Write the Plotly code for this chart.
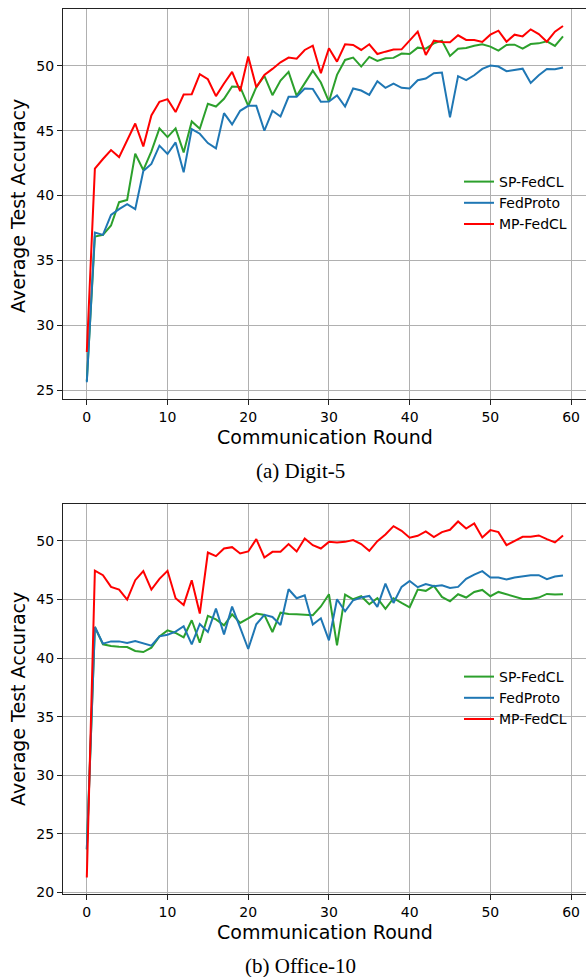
import plotly.graph_objects as go

# Communication rounds 0..59
rounds = list(range(60))

# Digit-5: average test accuracy per round
digit_sp = [25.7, 36.84, 36.97, 37.69, 39.49, 39.67, 43.23, 41.97, 43.41, 45.18,
            44.51, 45.18, 43.33, 45.72, 45.15, 47.08, 46.87, 47.46, 48.41, 48.38,
            46.92, 48.36, 49.23, 47.74, 48.87, 49.54, 47.69, 48.67, 49.64, 48.72,
            47.25, 49.31, 50.46, 50.64, 49.95, 50.69, 50.38, 50.59, 50.62, 50.95,
            50.92, 51.41, 51.33, 51.74, 51.95, 50.77, 51.33, 51.38, 51.56, 51.67,
            51.49, 51.18, 51.62, 51.64, 51.33, 51.69, 51.74, 51.90, 51.54, 52.28]
digit_proto = [25.6, 37.15, 36.97, 38.51, 38.95, 39.33, 38.95, 41.90, 42.44, 43.85,
               43.21, 44.10, 41.79, 45.13, 44.77, 44.05, 43.64, 46.36, 45.49, 46.54,
               46.92, 46.92, 45.00, 46.54, 46.10, 47.62, 47.62, 48.26, 48.23, 47.23,
               47.26, 47.72, 46.87, 48.26, 48.10, 47.77, 48.82, 48.31, 48.64, 48.31,
               48.26, 48.90, 49.03, 49.44, 49.49, 46.03, 49.21, 48.90, 49.28, 49.77,
               50.03, 49.95, 49.59, 49.67, 49.79, 48.69, 49.28, 49.77, 49.74, 49.87]
digit_mp = [27.93, 42.08, 42.82, 43.51, 42.97, 44.28, 45.56, 43.79, 46.18, 47.23,
            47.44, 46.44, 47.79, 47.82, 49.36, 48.97, 47.67, 48.64, 49.54, 48.05,
            50.72, 48.36, 49.31, 49.77, 50.28, 50.64, 50.56, 51.23, 51.56, 49.44,
            51.36, 50.33, 51.67, 51.62, 51.23, 51.67, 50.92, 51.10, 51.26, 51.28,
            52.00, 52.64, 50.85, 51.95, 51.85, 51.82, 52.36, 52.00, 52.00, 51.85,
            52.41, 52.72, 51.87, 52.41, 52.28, 52.82, 52.46, 51.87, 52.64, 53.08]

# Office-10: average test accuracy per round
office_sp = [23.67, 42.65, 41.17, 41.03, 40.97, 40.94, 40.60, 40.51, 40.88, 41.85,
             42.36, 42.14, 41.77, 43.22, 41.31, 43.59, 43.30, 42.79, 43.73, 42.99,
             43.39, 43.79, 43.68, 42.22, 43.87, 43.76, 43.73, 43.70, 43.65, 44.40,
             45.44, 41.08, 45.41, 45.01, 45.27, 44.59, 45.10, 44.19, 45.10, 44.70,
             44.33, 45.84, 45.73, 46.15, 45.21, 44.84, 45.44, 45.16, 45.64, 45.81,
             45.27, 45.64, 45.44, 45.21, 45.04, 45.04, 45.16, 45.47, 45.41, 45.44]
office_proto = [23.70, 42.65, 41.23, 41.42, 41.42, 41.28, 41.45, 41.25, 41.05, 41.85,
                41.99, 42.25, 42.71, 41.17, 42.91, 42.22, 44.22, 42.02, 44.39, 42.59,
                40.77, 42.88, 43.68, 43.50, 42.82, 45.87, 45.10, 45.36, 42.85, 43.39,
                41.51, 45.01, 43.99, 44.93, 45.16, 45.30, 44.36, 46.35, 44.70, 46.07,
                46.58, 46.04, 46.32, 46.13, 46.21, 45.98, 46.07, 46.75, 47.12, 47.41,
                46.87, 46.87, 46.70, 46.87, 46.98, 47.07, 47.07, 46.72, 46.95, 47.04]
office_mp = [21.28, 47.46, 47.07, 46.07, 45.84, 44.99, 46.64, 47.41, 45.84, 46.75,
             47.44, 45.10, 44.53, 46.64, 43.79, 49.00, 48.69, 49.34, 49.46, 48.92,
             49.09, 50.14, 48.58, 49.06, 49.06, 49.72, 49.09, 50.20, 49.63, 49.34,
             49.91, 49.86, 49.91, 50.06, 49.72, 49.15, 49.97, 50.54, 51.25, 50.85,
             50.26, 50.43, 50.80, 50.31, 50.74, 50.94, 51.65, 51.05, 51.48, 50.28,
             50.91, 50.74, 49.63, 50.00, 50.34, 50.34, 50.46, 50.14, 49.86, 50.46]

series_names = ["SP-FedCL", "FedProto", "MP-FedCL"]
series_colors = ["#2ca02c", "#1f77b4", "#ff0000"]

x_ticks = [0, 10, 20, 30, 40, 50, 60]
digit_y_ticks = [25, 30, 35, 40, 45, 50]
office_y_ticks = [20, 25, 30, 35, 40, 45, 50]

W, H = 586, 977
FONT = "DejaVu Sans"


def py(pix):
    """Paper y coordinate from a pixel row measured from the top."""
    return 1 - pix / H


def px(pix, left=63, width=523):
    return (pix - left) / width


fig = go.Figure()

panels = [
    ([digit_sp, digit_proto, digit_mp], "x", "y", "legend"),
    ([office_sp, office_proto, office_mp], "x2", "y2", "legend2"),
]
for values, xa, ya, lg in panels:
    for name, color, vals in zip(series_names, series_colors, values):
        fig.add_trace(go.Scatter(
            x=rounds, y=vals, mode="lines", name=name,
            line=dict(color=color, width=2),
            xaxis=xa, yaxis=ya, legend=lg,
        ))

axis_common = dict(
    showgrid=True, gridcolor="#b0b0b0", gridwidth=1,
    zeroline=False, showline=True, linecolor="#222222", linewidth=1.2,
    ticks="outside", ticklen=5, tickwidth=1, tickcolor="#222222",
    tickfont=dict(family=FONT, size=14, color="#000000"),
    automargin=False,
)

legend_common = dict(xanchor="left", yanchor="top",
                     bgcolor="rgba(0,0,0,0)", borderwidth=0,
                     font=dict(family=FONT, size=14, color="#000000"))

fig.update_layout(
    width=W, height=H,
    margin=dict(l=63, r=0, t=0, b=0),
    plot_bgcolor="white", paper_bgcolor="white",
    font=dict(family=FONT, color="#000000"),
    xaxis=dict(axis_common, domain=[0, 1], range=[-2.95, 61.85],
               tickvals=x_ticks, mirror=True, anchor="y"),
    yaxis=dict(axis_common, domain=[py(399), py(9)], range=[24.31, 54.39],
               tickvals=digit_y_ticks, anchor="x"),
    xaxis2=dict(axis_common, domain=[0, 1], range=[-2.95, 61.85],
                tickvals=x_ticks, mirror=True, anchor="y2"),
    yaxis2=dict(axis_common, domain=[py(894), py(504)], range=[19.87, 53.14],
                tickvals=office_y_ticks, anchor="x2"),
    legend=dict(legend_common, x=px(459), y=py(166)),
    legend2=dict(legend_common, x=px(459), y=py(661)),
    showlegend=True,
)

annotations = [
    dict(text="Average Test Accuracy", x=px(18), y=py(206), textangle=-90,
         font=dict(family=FONT, size=19)),
    dict(text="Average Test Accuracy", x=px(18), y=py(699), textangle=-90,
         font=dict(family=FONT, size=19)),
    dict(text="Communication Round", x=px(325), y=py(437),
         font=dict(family=FONT, size=19)),
    dict(text="Communication Round", x=px(325), y=py(932),
         font=dict(family=FONT, size=19)),
    dict(text="(a) Digit-5", x=px(300), y=py(471),
         font=dict(family="Liberation Serif", size=21)),
    dict(text="(b) Office-10", x=px(300), y=py(966),
         font=dict(family="Liberation Serif", size=21)),
]
for a in annotations:
    a.update(xref="paper", yref="paper", showarrow=False,
             xanchor="center", yanchor="middle")
fig.update_layout(annotations=annotations)

fig.write_html("out.html")
